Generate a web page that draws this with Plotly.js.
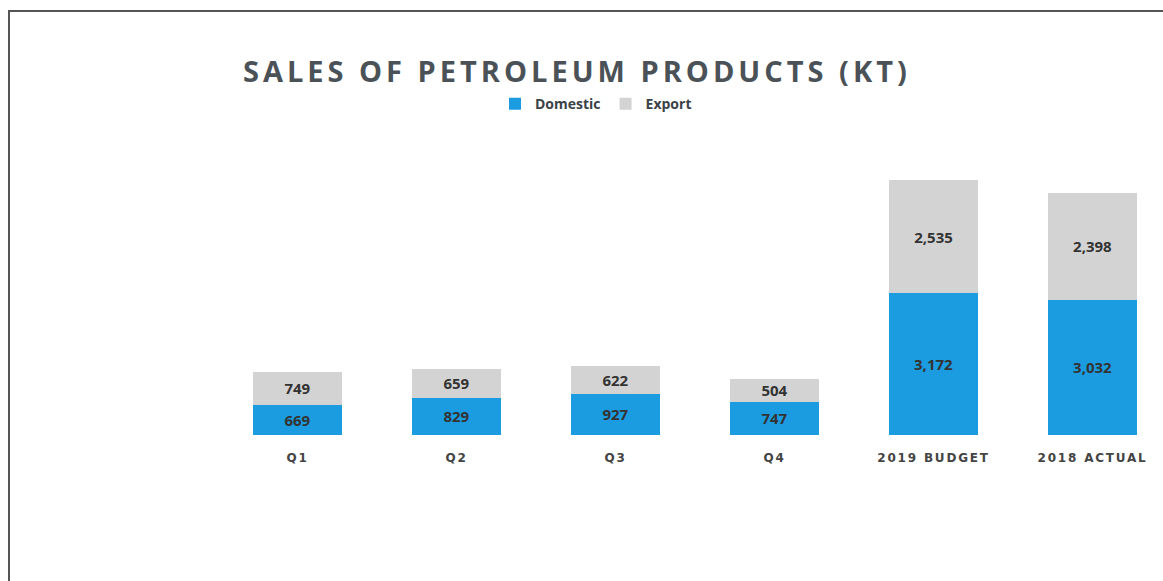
<!DOCTYPE html>
<html>
<head>
<meta charset="utf-8">
<script src="https://cdn.plot.ly/plotly-3.0.1.min.js"></script>
<style>
  html, body { margin: 0; padding: 0; background: #fff; }
  #frame { position: absolute; left: 8px; top: 10px; width: 1160px; height: 580px;
           border-top: 2px solid #555; border-left: 2px solid #555; box-sizing: border-box; }
  #chart { position: absolute; left: 0; top: 0; width: 1163px; height: 581px; }
  #chart .gtitle { letter-spacing: 4px; }
  #chart .xtick text { letter-spacing: 1.8px; }
</style>
</head>
<body>
<div id="frame"></div>
<div id="chart"></div>
<script>
const categories = ["Q1", "Q2", "Q3", "Q4", "2019 BUDGET", "2018 ACTUAL"];
const domestic = [669, 829, 927, 747, 3172, 3032];
const exportVals = [749, 659, 622, 504, 2535, 2398];

const labelFont = {family: "Open Sans, Arial, sans-serif", size: 15, color: "#333", weight: 700};

const traces = [
  {
    type: "bar", name: "Domestic", x: categories, y: domestic,
    marker: {color: "#1b9be0"},
    texttemplate: "%{y:,}", textposition: "inside", insidetextanchor: "middle",
    constraintext: "none", textfont: labelFont,
    hoverinfo: "x+y"
  },
  {
    type: "bar", name: "Export", x: categories, y: exportVals,
    marker: {color: "#d3d3d3"},
    texttemplate: "%{y:,}", textposition: "inside", insidetextanchor: "middle",
    constraintext: "none", textfont: labelFont,
    hoverinfo: "x+y"
  }
];

const layout = {
  width: 1163, height: 581,
  paper_bgcolor: "rgba(0,0,0,0)", plot_bgcolor: "rgba(0,0,0,0)",
  barmode: "stack", bargap: 0.44,
  margin: {l: 218, r: 0, t: 120, b: 146},
  title: {
    text: "<b>SALES OF PETROLEUM PRODUCTS (KT)</b>",
    font: {family: "Open Sans, Arial, sans-serif", size: 29, color: "#4b5257"},
    xref: "container", x: 0.496, xanchor: "center",
    yref: "container", y: 0.876, yanchor: "middle"
  },
  showlegend: true,
  legend: {
    orientation: "h", x: 0.4, xanchor: "center", y: 1.05, yanchor: "middle",
    font: {family: "Open Sans, Arial, sans-serif", size: 14, color: "#3a4248", weight: 700},
    itemwidth: 30, traceorder: "normal", bgcolor: "rgba(0,0,0,0)"
  },
  xaxis: {
    type: "category", range: [-0.5, 5.443],
    showgrid: false, zeroline: false, showline: false, ticks: "",
    ticklabelstandoff: 14,
    tickfont: {family: "DejaVu Sans, Arial, sans-serif", size: 12, color: "#444", weight: 700},
    fixedrange: true
  },
  yaxis: {
    range: [0, 7056], visible: false, showgrid: false, zeroline: false, fixedrange: true
  }
};

Plotly.newPlot("chart", traces, layout, {displayModeBar: false, staticPlot: true});
</script>
</body>
</html>
